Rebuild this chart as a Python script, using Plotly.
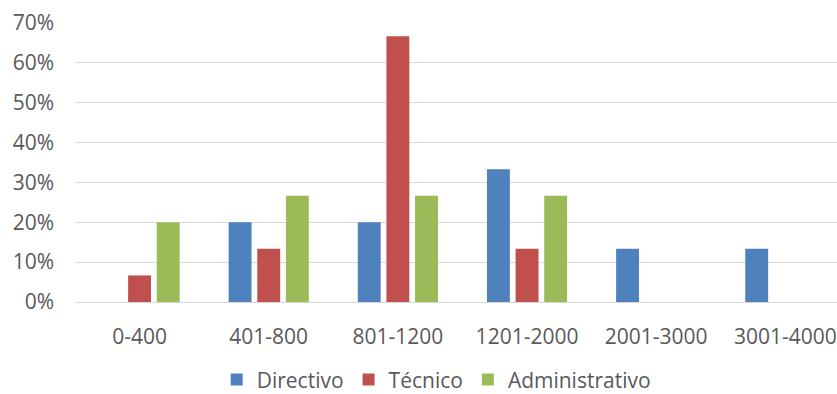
import plotly.graph_objects as go

categories = ["0-400", "401-800", "801-1200", "1201-2000", "2001-3000", "3001-4000"]
directivo = [0, 20.0, 20.0, 33.33, 13.33, 13.33]
tecnico = [6.67, 13.33, 66.67, 13.33, 0, 0]
administrativo = [20.0, 26.67, 26.67, 26.67, 0, 0]

series = [
    ("Directivo", directivo, "#4F81BD"),
    ("Técnico", tecnico, "#C0504D"),
    ("Administrativo", administrativo, "#9BBB59"),
]

FONT = "Open Sans"
TXT = "#595959"
FS = 21

fig = go.Figure()
for name, vals, color in series:
    fig.add_trace(go.Bar(x=categories, y=vals, name=name,
                         marker=dict(color=color, line=dict(width=0))))

fig.update_layout(
    width=837, height=394,
    margin=dict(l=75, r=0, t=23, b=92, pad=0),
    paper_bgcolor="white", plot_bgcolor="white",
    barmode="group", bargap=0.335, bargroupgap=0.2,
    font=dict(family=FONT, size=FS, color=TXT),
    showlegend=True,
    legend=dict(orientation="h", x=0.474, xanchor="center",
                yref="container", y=0.036, yanchor="middle",
                bgcolor="rgba(0,0,0,0)",
                font=dict(family=FONT, size=FS, color=TXT),
                itemwidth=30, tracegroupgap=0),
)
fig.update_xaxes(range=[-0.5, 5.4], showgrid=False, showline=False, zeroline=False,
                 ticks="", tickfont=dict(family=FONT, size=FS, color=TXT),
                 ticklabelstandoff=20)
fig.update_yaxes(range=[0, 70], dtick=10, ticksuffix="%", showgrid=True,
                 gridcolor="#D9D9D9", gridwidth=1.3, zeroline=True,
                 zerolinecolor="#D9D9D9", zerolinewidth=1.3, showline=False,
                 ticks="", tickfont=dict(family=FONT, size=FS, color=TXT),
                 ticklabelstandoff=20)

fig.write_html("out.html")
